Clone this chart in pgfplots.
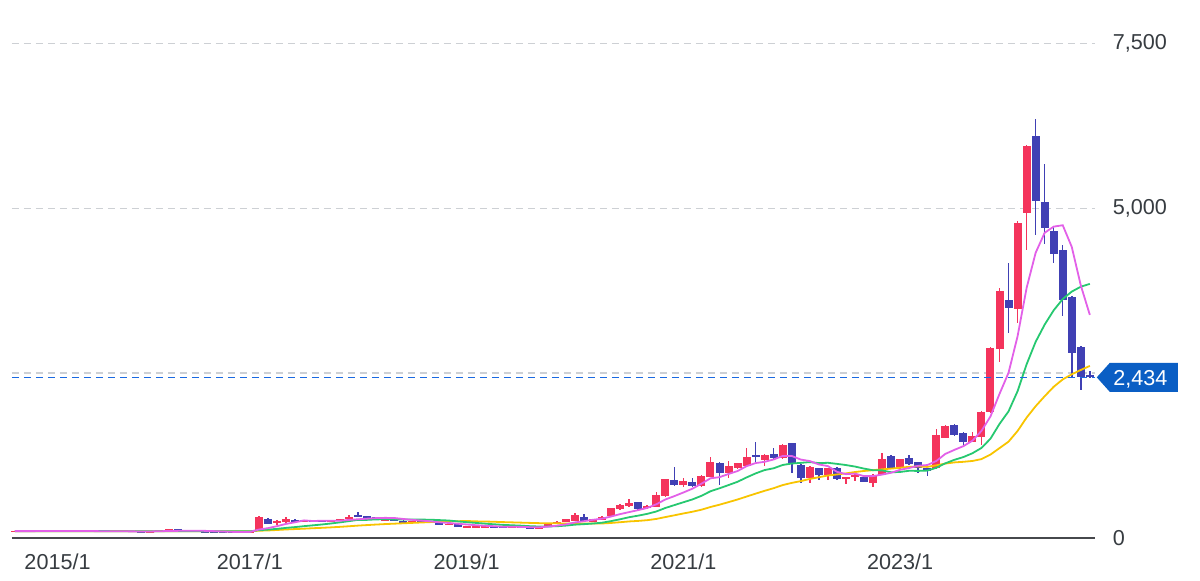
\documentclass[border=0pt]{standalone}
\usepackage{fontspec}
\setmainfont{Liberation Sans}
\usepackage{pgfplots}
\pgfplotsset{compat=1.18}
\usepackage{pgfplotstable}
\definecolor{cred}{RGB}{244,52,92}
\definecolor{cblue}{RGB}{64,64,180}
\definecolor{mapink}{RGB}{226,96,232}
\definecolor{magreen}{RGB}{38,200,112}
\definecolor{mayellow}{RGB}{248,196,0}
\definecolor{tagblue}{RGB}{10,94,196}
\definecolor{pricedash}{RGB}{25,105,225}
\definecolor{txtgray}{RGB}{55,60,65}
\definecolor{gridgray}{RGB}{205,208,212}
\definecolor{axgray}{RGB}{70,72,76}

% rising months (red)
\pgfplotstableread{
m o h l c
-2 95 104 92 100
0 98 104 96 102
2 100 105 98 103
4 101 106 99 104
9 94 100 92 98
13 92 97 90 95
14 95 115 93 110
15 110 128 106 120
23 84 88 82 86
24 86 95 84 92
25 110 330 105 310
27 220 265 190 260
28 235 320 225 288
30 245 275 238 262
33 248 270 240 262
34 255 290 250 282
35 282 338 275 319
39 270 292 262 280
42 232 250 228 245
46 195 215 190 210
48 152 185 148 178
49 165 176 160 172
50 165 178 162 172
53 155 166 152 162
54 158 168 155 165
56 148 163 145 160
57 178 222 175 218
58 210 250 205 245
59 238 285 232 280
60 258 370 250 345
62 245 290 240 283
63 270 330 262 320
64 330 455 325 446
65 431 505 420 496
66 481 583 461 531
68 446 490 440 481
69 471 689 465 648
70 633 895 625 886
72 800 900 770 861
74 785 945 775 937
75 926 1220 915 1145
77 987 1164 911 1088
78 1063 1140 1050 1129
79 1088 1357 1080 1230
81 1180 1270 1088 1255
83 1205 1415 1195 1407
86 902 1085 835 1078
88 952 1060 876 1053
90 886 925 815 917
91 917 960 860 952
93 835 960 774 952
94 952 1281 945 1190
96 1053 1200 1045 1190
100 1053 1645 1045 1559
101 1518 1705 1510 1696
104 1457 1600 1450 1544
105 1533 1920 1407 1913
106 1913 2890 1900 2875
107 2860 3786 2672 3750
109 3467 4812 3255 4782
110 4924 5960 4367 5946
}\up

% falling months (blue)
\pgfplotstableread{
m o h l c
-1 100 102 96 98
1 102 104 98 100
3 103 105 99 101
5 104 106 98 100
6 100 102 94 96
7 96 98 93 95
8 95 97 92 94
10 98 100 95 97
11 97 99 94 96
12 96 98 90 92
16 120 124 108 112
17 112 114 98 100
18 100 102 90 92
19 92 94 86 88
20 88 90 84 86
21 86 88 83 85
22 85 87 82 84
26 290 300 205 215
29 273 280 232 240
31 262 270 240 250
32 255 262 235 245
36 352 385 315 322
37 322 330 298 305
38 310 318 290 300
40 272 276 255 268
41 258 262 225 230
43 245 248 232 238
44 240 242 220 225
45 218 222 190 195
47 205 210 155 160
51 172 175 155 160
52 168 170 150 155
55 160 162 140 145
61 320 360 252 260
67 540 546 425 440
71 876 1069 790 800
73 850 911 770 785
76 1139 1150 800 987
80 1255 1448 1150 1220
82 1270 1357 1190 1205
84 1433 1440 978 1129
85 1104 1115 826 902
87 1053 1060 876 952
89 1053 1080 880 886
92 926 935 845 850
95 1240 1250 1045 1053
97 1205 1250 1105 1114
98 1145 1155 978 1053
99 1053 1060 937 1017
102 1711 1720 1550 1559
103 1594 1600 1372 1457
108 3608 4165 3112 3482
111 6098 6356 4595 5116
112 5100 5673 4458 4697
113 4660 4721 4165 4307
114 4367 4443 3365 3608
115 3658 3670 2444 2808
116 2899 2910 2242 2435
117 2470 2530 2420 2434
}\down

% moving averages: 6-month (p), 12-month (g), 24-month (y)
\pgfplotstableread{
m p g y
-2 100 100 100
-1 100 100 100
0 100 100 100
1 101 100 100
2 101 100 100
3 102 100 100
4 102 100 100
5 102 100 100
6 101 100 100
7 100 100 100
8 98 100 100
9 98 99 100
10 97 99 100
11 96 99 99
12 95 98 99
13 95 98 99
14 98 98 99
15 102 100 99
16 104 100 99
17 105 100 99
18 105 100 99
19 104 100 99
20 100 99 99
21 94 98 98
22 89 97 98
23 87 96 97
24 87 96 97
25 124 114 106
26 145 123 110
27 175 134 117
28 209 149 125
29 234 161 131
30 263 175 137
31 253 188 144
32 258 201 150
33 258 216 157
34 257 233 165
35 270 252 174
36 280 271 184
37 289 271 192
38 298 278 200
39 301 280 207
40 299 278 213
41 284 277 219
42 271 276 225
43 260 275 231
44 248 273 237
45 234 267 242
46 224 261 247
47 212 248 250
48 201 236 254
49 190 225 248
50 181 214 246
51 175 204 242
52 166 195 237
53 167 189 233
54 164 183 229
55 160 175 225
56 158 170 221
57 168 171 219
58 183 174 218
59 202 184 216
60 232 198 217
61 251 206 215
62 272 215 215
63 289 228 216
64 322 252 224
65 358 280 235
66 389 311 247
67 419 335 255
68 452 362 266
69 507 398 285
70 580 451 313
71 631 495 340
72 686 538 368
73 744 581 394
74 820 636 425
75 902 705 466
76 919 750 501
77 967 799 540
78 1012 849 580
79 1086 915 625
80 1133 976 669
81 1152 1027 712
82 1188 1054 752
83 1241 1104 799
84 1241 1126 832
85 1186 1136 859
86 1163 1148 892
87 1112 1132 918
88 1087 1137 944
89 1000 1121 960
90 965 1103 976
91 973 1080 997
92 935 1049 1013
93 935 1024 1025
94 958 1022 1038
95 986 993 1049
96 1031 998 1062
97 1058 1016 1076
98 1092 1014 1081
99 1103 1019 1075
100 1164 1061 1099
101 1272 1129 1125
102 1333 1182 1143
103 1390 1224 1152
104 1472 1282 1165
105 1621 1362 1193
106 1841 1503 1262
107 2183 1727 1360
108 2504 1918 1458
109 3058 2224 1620
110 3791 2632 1823
111 4325 2973 1996
112 4629 3235 2148
113 4722 3452 2291
114 4743 3623 2403
115 4414 3736 2480
116 3829 3810 2546
117 3382 3853 2608
}\ma

\begin{document}
\begin{tikzpicture}
\path[use as bounding box] (-5.9pt,-21.15pt) rectangle (594.1pt,268.85pt);
\begin{axis}[
  scale only axis, width=541.5pt, height=247.05pt,
  xmin=-2.35, xmax=117.55, ymin=0, ymax=7500,
  clip=false,
  axis line style={draw=none},
  major tick length=0pt,
  xtick={24,48,72,96},
  xticklabels={2017/1,2019/1,2021/1,2023/1},
  extra x ticks={0}, extra x tick labels={2015/1},
  extra x tick style={xticklabel style={xshift=12.25pt}},
  ytick={0,2500,5000,7500},
  yticklabels={{0},{},{5,000},{7,500}},
  yticklabel pos=right,
  ymajorgrids,
  grid style={gridgray, dash pattern=on 3.6pt off 2.4pt, line width=0.6pt},
  tick label style={font=\fontsize{10.8}{12}\selectfont, text=txtgray},
  xticklabel style={yshift=-4.6pt},
  yticklabel style={anchor=west, xshift=5.5pt},
]
% wicks
\addplot[draw=none, mark=none, forget plot,
  error bars/.cd, y dir=both, y explicit, error mark=none,
  error bar style={draw=cred, line width=0.75pt}]
  table[x=m, y expr={(\thisrow{h}+\thisrow{l})/2}, y error expr={(\thisrow{h}-\thisrow{l})/2}] {\up};
\addplot[draw=none, mark=none, forget plot,
  error bars/.cd, y dir=both, y explicit, error mark=none,
  error bar style={draw=cblue, line width=0.75pt}]
  table[x=m, y expr={(\thisrow{h}+\thisrow{l})/2}, y error expr={(\thisrow{h}-\thisrow{l})/2}] {\down};
% bodies
\addplot[draw=none, mark=none, forget plot,
  error bars/.cd, y dir=both, y explicit, error mark=none,
  error bar style={draw=cred, line width=4pt}]
  table[x=m, y expr={(\thisrow{o}+\thisrow{c})/2}, y error expr={max(abs(\thisrow{c}-\thisrow{o})/2,10)}] {\up};
\addplot[draw=none, mark=none, forget plot,
  error bars/.cd, y dir=both, y explicit, error mark=none,
  error bar style={draw=cblue, line width=4pt}]
  table[x=m, y expr={(\thisrow{o}+\thisrow{c})/2}, y error expr={max(abs(\thisrow{c}-\thisrow{o})/2,10)}] {\down};
% moving averages
\addplot[mayellow, line width=0.9pt, mark=none] table[x=m, y=y] {\ma};
\addplot[magreen, line width=0.9pt, mark=none] table[x=m, y=g] {\ma};
\addplot[mapink, line width=0.9pt, mark=none] table[x=m, y=p] {\ma};
\coordinate (pl) at (axis cs:-2.35,2434);
\coordinate (tagpt) at (axis cs:117.55,2434);
\coordinate (bl) at (axis cs:-2.35,0);
\coordinate (br) at (axis cs:117.55,0);
\end{axis}
% current price line and baseline
\draw[draw={rgb,255:red,25;green,105;blue,225}, line width=0.8pt, dash pattern=on 3.6pt off 2.4pt] (pl) -- (tagpt);
\draw[draw=axgray, line width=1pt] (bl) -- (br);
\fill[tagblue] (tagpt) ++(1pt,0) -- ++(6.5pt,7.25pt) -- ++(34pt,0) -- ++(0,-14.5pt) -- ++(-34pt,0) -- cycle;
\node[anchor=base, text=white, inner sep=0pt, font=\fontsize{10.8}{12}\selectfont] at ([shift={(22.75pt,-3.83pt)}]tagpt) {2,434};
\end{tikzpicture}
\end{document}
